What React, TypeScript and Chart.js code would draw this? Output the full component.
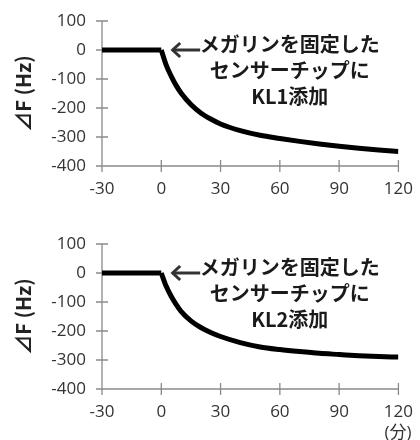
import React, { useEffect, useRef } from "react";
import { Chart, registerables } from "chart.js";
Chart.register(...registerables);

// minutes after addition
const TIMES = [-30, -20, -10, 0, 2.5, 5, 7.5, 10, 15, 20, 25, 30, 40, 50, 60, 70, 80, 90, 100, 110, 120];
// ΔF (Hz) after adding KL1
const KL1 = [0, 0, 0, 0, -52, -90, -122, -148, -188, -217, -238, -255, -278, -294, -305, -315, -324, -332, -339, -345, -350];
// ΔF (Hz) after adding KL2
const KL2 = [0, 0, 0, 0, -46, -80, -108, -132, -165, -188, -205, -219, -240, -255, -264, -271, -277, -281, -285, -288, -290];

const X_TICKS = [-30, 0, 30, 60, 90, 120];
const Y_TICKS = [100, 0, -100, -200, -300, -400];
const Y_TITLE = "⊿F (Hz)";
const X_UNIT = "(分)";
const NOTE_KL1 = ["メガリンを固定した", "センサーチップに", "KL1添加"];
const NOTE_KL2 = ["メガリンを固定した", "センサーチップに", "KL2添加"];

const TICK_FONT = { family: "'Open Sans', 'Noto Sans CJK JP', sans-serif", size: 17 };
const TICK_COLOR = "#333";
const AXIS_COLOR = "#8a8a8a";

const axesPlugin = {
  id: "excelAxes",
  beforeDatasetsDraw(chart: any) {
    const { ctx, scales } = chart;
    const x = scales.x, y = scales.y;
    const x0 = x.getPixelForValue(X_TICKS[0]);
    const y0 = y.getPixelForValue(Y_TICKS[Y_TICKS.length - 1]);
    ctx.save();
    ctx.strokeStyle = AXIS_COLOR;
    ctx.lineWidth = 1.3;
    ctx.beginPath();
    ctx.moveTo(x0, y.getPixelForValue(Y_TICKS[0]));
    ctx.lineTo(x0, y0);
    ctx.lineTo(x.getPixelForValue(X_TICKS[X_TICKS.length - 1]), y0);
    Y_TICKS.forEach((v) => {
      const py = y.getPixelForValue(v);
      ctx.moveTo(x0 - 6, py);
      ctx.lineTo(x0 + 6, py);
    });
    X_TICKS.forEach((v) => {
      const px = x.getPixelForValue(v);
      ctx.moveTo(px, y0 - 6);
      ctx.lineTo(px, y0 + 6);
    });
    ctx.stroke();
    ctx.restore();
  },
};

const notePlugin = {
  id: "note",
  afterDatasetsDraw(chart: any, _args: any, opts: any) {
    const { ctx, scales } = chart;
    const x = scales.x, y = scales.y;
    const tipX = x.getPixelForValue(5);
    const tipY = y.getPixelForValue(0);
    ctx.save();
    // arrow
    ctx.strokeStyle = "#333";
    ctx.lineWidth = 3;
    ctx.lineCap = "butt";
    ctx.beginPath();
    ctx.moveTo(tipX + 1, tipY);
    ctx.lineTo(tipX + 29, tipY);
    ctx.stroke();
    ctx.beginPath();
    ctx.moveTo(tipX + 9, tipY - 7);
    ctx.lineTo(tipX + 1.5, tipY);
    ctx.lineTo(tipX + 9, tipY + 7);
    ctx.stroke();
    // text
    ctx.fillStyle = "#1a1a1a";
    ctx.font = "bold 20px 'Noto Sans CJK JP', sans-serif";
    ctx.textAlign = "center";
    ctx.textBaseline = "middle";
    const cx = x.getPixelForValue(65);
    const lines: string[] = opts.lines || [];
    lines.forEach((t, i) => ctx.fillText(t, cx, tipY - 6 + i * 26));
    if (opts.unit) {
      ctx.fillStyle = TICK_COLOR;
      ctx.font = "17px 'Open Sans', 'Noto Sans CJK JP', sans-serif";
      ctx.textAlign = "left";
      ctx.fillText(opts.unit, x.getPixelForValue(120) - 14, chart.chartArea.bottom + 44);
    }
    ctx.restore();
  },
};

function Panel({ values, lines, unit, padTop, xHeight }: any) {
  const ref = useRef<HTMLCanvasElement>(null);
  useEffect(() => {
    if (!ref.current) return;
    const flat = TIMES.map((t, i) => ({ x: t, y: values[i] })).filter((p) => p.x <= 0);
    const curve = TIMES.map((t, i) => ({ x: t, y: values[i] })).filter((p) => p.x >= 0);
    const common = {
      borderColor: "#000",
      borderWidth: 5,
      pointRadius: 0,
      fill: false,
      borderCapStyle: "butt" as const,
    };
    const chart = new Chart(ref.current, {
      type: "line",
      data: {
        datasets: [
          { ...common, data: flat, tension: 0 },
          { ...common, data: curve, cubicInterpolationMode: "monotone" as const },
        ],
      },
      plugins: [axesPlugin, notePlugin],
      options: {
        responsive: false,
        animation: false,
        layout: { padding: { left: 0, right: 17, top: padTop, bottom: 0 } },
        plugins: {
          legend: { display: false },
          tooltip: { enabled: false },
          note: { lines, unit },
        } as any,
        scales: {
          x: {
            type: "linear",
            min: X_TICKS[0],
            max: X_TICKS[X_TICKS.length - 1],
            afterBuildTicks: (s: any) => {
              s.ticks = X_TICKS.map((v) => ({ value: v }));
            },
            ticks: { font: TICK_FONT, color: TICK_COLOR, padding: 7, maxRotation: 0 },
            grid: { display: true, drawOnChartArea: false, color: "rgba(0,0,0,0)", tickLength: 6 },
            border: { display: false },
            afterFit: (s: any) => {
              s.height = xHeight;
            },
          },
          y: {
            type: "linear",
            min: Y_TICKS[Y_TICKS.length - 1],
            max: Y_TICKS[0],
            afterBuildTicks: (s: any) => {
              s.ticks = Y_TICKS.slice().reverse().map((v) => ({ value: v }));
            },
            ticks: { font: TICK_FONT, color: TICK_COLOR, padding: 10 },
            grid: { display: true, drawOnChartArea: false, color: "rgba(0,0,0,0)", tickLength: 6 },
            border: { display: false },
            title: {
              display: true,
              text: Y_TITLE,
              color: "#222",
              font: { family: "'Noto Sans CJK JP', sans-serif", size: 20, weight: "bold" },
              padding: { top: 11, bottom: 0 },
            },
            afterFit: (s: any) => {
              s.width = 102;
            },
          },
        },
      } as any,
    });
    return () => chart.destroy();
  }, []);
  return <canvas ref={ref} width={420} height={220} style={{ display: "block", width: 420, height: 220 }} />;
}

export default function App() {
  useEffect(() => {
    document.body.style.margin = "0";
    document.body.style.background = "#fff";
  }, []);
  return (
    <div style={{ width: 420, height: 440, background: "#fff" }}>
      <Panel values={KL1} lines={NOTE_KL1} padTop={21} xHeight={54} />
      <Panel values={KL2} lines={NOTE_KL2} unit={X_UNIT} padTop={24} xHeight={51} />
    </div>
  );
}
